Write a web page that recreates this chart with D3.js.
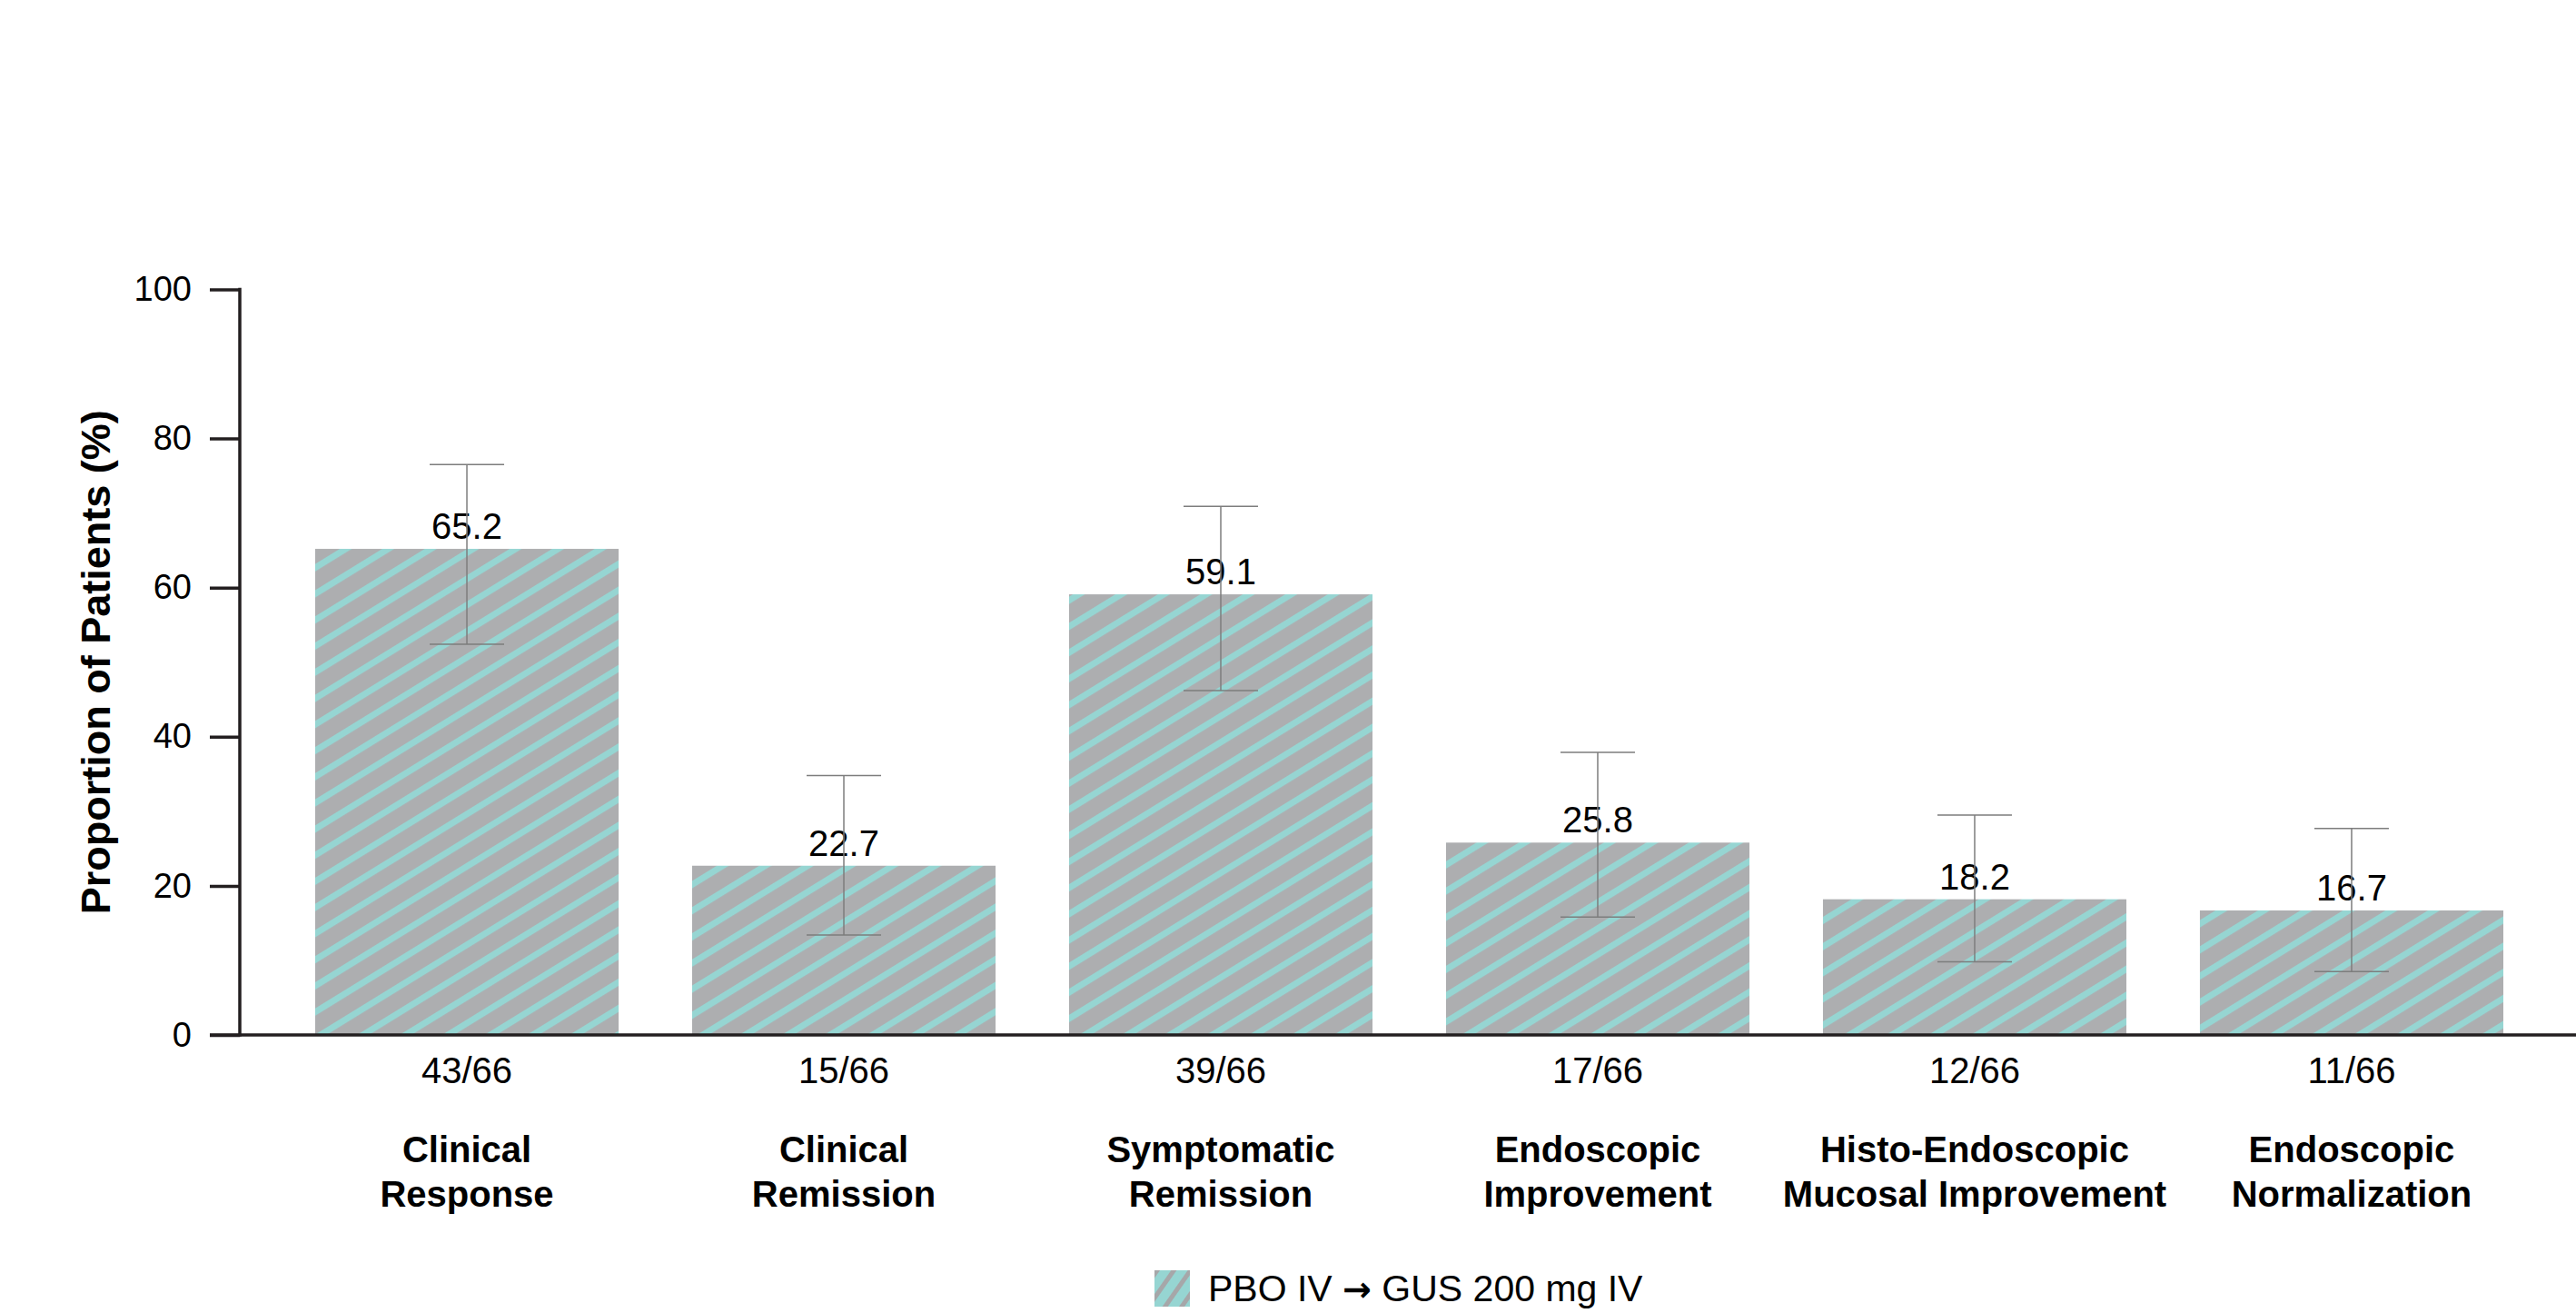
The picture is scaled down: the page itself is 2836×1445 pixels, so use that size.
<!DOCTYPE html>
<html>
<head>
<meta charset="utf-8">
<script src="https://cdn.jsdelivr.net/npm/d3@7/dist/d3.min.js"></script>
<style>
  html, body { margin: 0; padding: 0; background: #fff; }
  svg { display: block; font-family: "Liberation Sans", Arial, Helvetica, sans-serif; }
</style>
</head>
<body>
<svg id="chart" width="2836" height="1445"></svg>
<script>
// ---- Data ----
const categories = [
  ["Clinical", "Response"],
  ["Clinical", "Remission"],
  ["Symptomatic", "Remission"],
  ["Endoscopic", "Improvement"],
  ["Histo-Endoscopic", "Mucosal Improvement"],
  ["Endoscopic", "Normalization"]
];
const values = [65.2, 22.7, 59.1, 25.8, 18.2, 16.7];
const counts = ["43/66", "15/66", "39/66", "17/66", "12/66", "11/66"];
const ciLow  = [52.4, 13.4, 46.2, 15.8, 9.8, 8.5];
const ciHigh = [76.5, 34.8, 70.9, 37.9, 29.5, 27.7];
const yTicks = [0, 20, 40, 60, 80, 100];
const yTitle = "Proportion of Patients (%)";
const legendParts = ["PBO IV ", "\u2192", " GUS 200 mg IV"];

// ---- Layout ----
const svg = d3.select("#chart");
const x0 = 264, x1 = 2839, yTop = 318.5, yBottom = 1139;
const gray = "#adaeb0", teal = "#96d5d2", axisColor = "#231f20";

const x = d3.scaleBand()
  .domain(d3.range(values.length))
  .range([x0, x1])
  .paddingInner(0.195)
  .paddingOuter(0.2);
const y = d3.scaleLinear().domain([0, 100]).range([yBottom, yTop]);

// ---- Patterns ----
const defs = svg.append("defs");
const pat = defs.append("pattern")
  .attr("id", "hatch")
  .attr("patternUnits", "userSpaceOnUse")
  .attr("width", 20).attr("height", 24.5)
  .attr("patternTransform", "rotate(-31.6)");
pat.append("rect").attr("width", 20).attr("height", 24.5).attr("fill", gray);
pat.append("rect").attr("y", 0).attr("width", 20).attr("height", 7).attr("fill", teal);

const pat2 = defs.append("pattern")
  .attr("id", "hatchLegend")
  .attr("patternUnits", "userSpaceOnUse")
  .attr("width", 10).attr("height", 15)
  .attr("patternTransform", "translate(1271,1398) rotate(-55)");
pat2.append("rect").attr("width", 10).attr("height", 15).attr("fill", teal);
pat2.append("rect").attr("y", 0).attr("width", 10).attr("height", 5).attr("fill", "#a6a7a9");

// ---- Bars ----
svg.append("g").selectAll("rect")
  .data(values)
  .join("rect")
  .attr("x", (d, i) => x(i))
  .attr("width", x.bandwidth())
  .attr("y", d => y(d))
  .attr("height", d => y(0) - y(d))
  .attr("fill", "url(#hatch)");

// ---- Value labels ----
svg.append("g").selectAll("text")
  .data(values)
  .join("text")
  .attr("x", (d, i) => x(i) + x.bandwidth() / 2)
  .attr("y", d => y(d) - 11)
  .attr("text-anchor", "middle")
  .attr("font-size", 40)
  .attr("fill", "#000")
  .text(d => d.toFixed(1));

// ---- Error bars ----
const eb = svg.append("g").attr("stroke", "#7d7d7d").attr("stroke-width", 1.5).attr("fill", "none");
const capHalf = 41;
values.forEach((d, i) => {
  const cx = x(i) + x.bandwidth() / 2;
  eb.append("line").attr("x1", cx).attr("x2", cx).attr("y1", y(ciLow[i])).attr("y2", y(ciHigh[i]));
  eb.append("line").attr("x1", cx - capHalf).attr("x2", cx + capHalf).attr("y1", y(ciLow[i])).attr("y2", y(ciLow[i]));
  eb.append("line").attr("x1", cx - capHalf).attr("x2", cx + capHalf).attr("y1", y(ciHigh[i])).attr("y2", y(ciHigh[i]));
});

// ---- Y axis ----
const yAxis = d3.axisLeft(y).tickValues(yTicks).tickSize(33).tickPadding(20).tickFormat(d3.format("d"));
const gy = svg.append("g").attr("transform", `translate(${x0},0)`).call(yAxis);
gy.select(".domain").remove();
gy.selectAll(".tick line").attr("stroke", axisColor).attr("stroke-width", 3.5);
gy.selectAll(".tick text").attr("font-size", 38).attr("fill", "#000")
  .attr("font-family", "'Liberation Sans', Arial, sans-serif");
svg.append("line").attr("x1", x0).attr("x2", x0).attr("y1", yTop - 1.75).attr("y2", yBottom + 1.75)
  .attr("stroke", axisColor).attr("stroke-width", 3.5);

// ---- X axis line ----
svg.append("line").attr("x1", x0 - 33).attr("x2", 2836).attr("y1", yBottom).attr("y2", yBottom)
  .attr("stroke", axisColor).attr("stroke-width", 3.5);

// ---- Count labels ----
svg.append("g").selectAll("text")
  .data(counts)
  .join("text")
  .attr("x", (d, i) => x(i) + x.bandwidth() / 2)
  .attr("y", 1192)
  .attr("text-anchor", "middle")
  .attr("font-size", 40)
  .attr("fill", "#000")
  .text(d => d);

// ---- Category labels ----
const cg = svg.append("g").selectAll("text")
  .data(categories)
  .join("text")
  .attr("x", (d, i) => x(i) + x.bandwidth() / 2)
  .attr("y", 1279)
  .attr("text-anchor", "middle")
  .attr("font-size", 40)
  .attr("font-weight", "bold")
  .attr("fill", "#000");
cg.each(function(d, i) {
  const t = d3.select(this);
  const cx = x(i) + x.bandwidth() / 2;
  d.forEach((line, j) => {
    t.append("tspan").attr("x", cx).attr("dy", j === 0 ? 0 : 49).text(line);
  });
});

// ---- Y title ----
svg.append("text")
  .attr("transform", `translate(121, ${(yTop + yBottom) / 2}) rotate(-90)`)
  .attr("text-anchor", "middle")
  .attr("font-size", 45)
  .attr("font-weight", "bold")
  .attr("fill", "#000")
  .text(yTitle);

// ---- Legend ----
svg.append("rect").attr("x", 1271).attr("y", 1398).attr("width", 39).attr("height", 40)
  .attr("fill", "url(#hatchLegend)");
const lt = svg.append("text").attr("x", 1330).attr("y", 1432).attr("font-size", 41).attr("fill", "#000");
lt.append("tspan").text(legendParts[0]);
lt.append("tspan").attr("font-family", "'DejaVu Sans', sans-serif").attr("font-weight", "bold")
  .attr("font-size", 38).text(legendParts[1]);
lt.append("tspan").text(legendParts[2]);
</script>
</body>
</html>
